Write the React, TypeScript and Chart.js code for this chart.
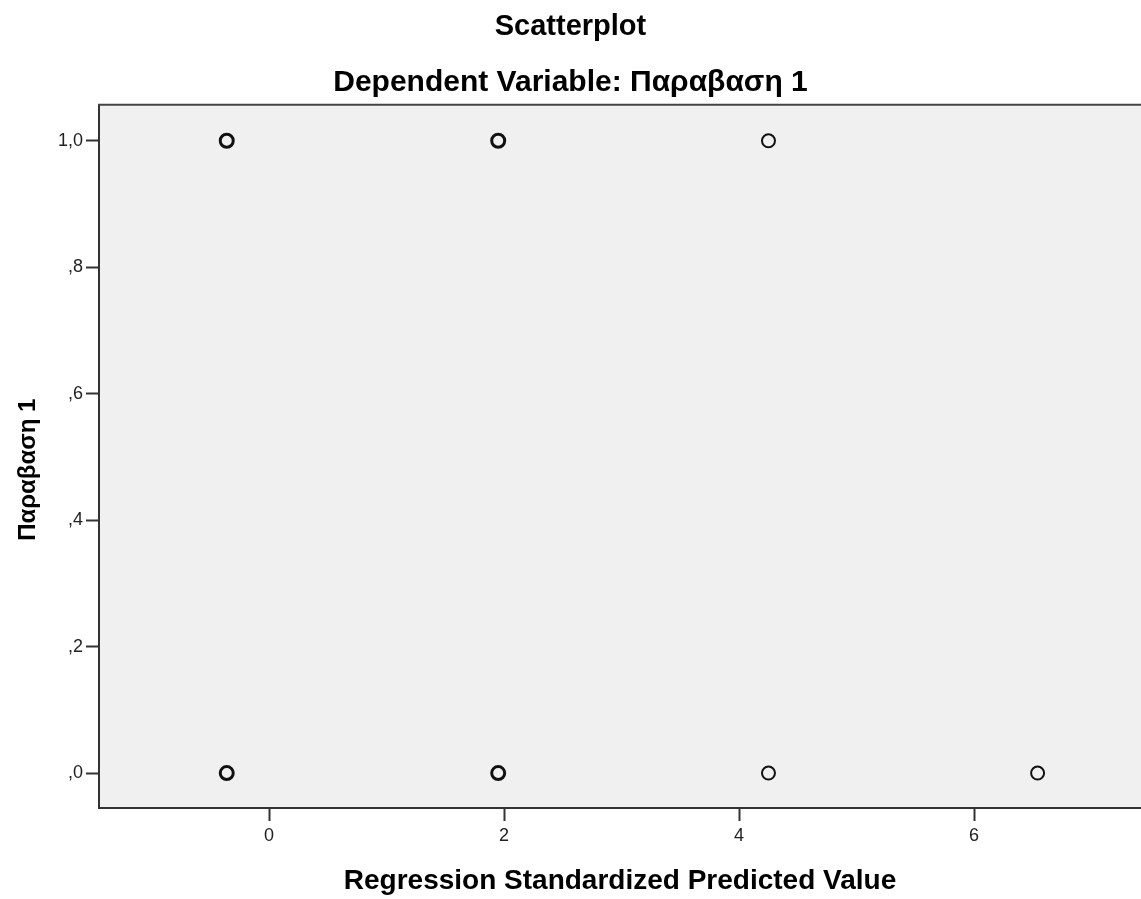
import React, { useEffect, useRef } from "react";
import { Chart, registerables } from "chart.js";

Chart.register(...registerables);

// Data
const predictedValues = [-0.36, 1.95, 4.25, -0.36, 1.95, 4.25, 6.54];
const dependentValues = [1, 1, 1, 0, 0, 0, 0];
// Number of overlapping cases per marker (approximate: bold circles = many cases)
const caseCounts = [6, 6, 1, 6, 6, 1, 1];

const xTickValues = [0, 2, 4, 6];
const xTickLabels = ["0", "2", "4", "6"];
const yTickValues = [0, 0.2, 0.4, 0.6, 0.8, 1.0];
const yTickLabels = [",0", ",2", ",4", ",6", ",8", "1,0"];

const chartTitle = "Scatterplot";
const chartSubtitle = "Dependent Variable: Παραβαση 1";
const xAxisTitle = "Regression Standardized Predicted Value";
const yAxisTitle = "Παραβαση 1";

const FONT = "'Liberation Sans', Arial, sans-serif";

const plotFrame = {
  id: "plotFrame",
  beforeDraw(chart: any) {
    const { ctx, chartArea } = chart;
    ctx.save();
    ctx.fillStyle = "#f0f0f0";
    ctx.fillRect(chartArea.left, chartArea.top, chartArea.right - chartArea.left, chartArea.bottom - chartArea.top);
    ctx.restore();
  },
  afterDraw(chart: any) {
    const { ctx, chartArea } = chart;
    ctx.save();
    ctx.strokeStyle = "#444";
    ctx.lineWidth = 2;
    ctx.beginPath();
    ctx.moveTo(chartArea.left - 1, chartArea.top);
    ctx.lineTo(chartArea.right, chartArea.top);
    ctx.stroke();
    ctx.restore();
  },
};

export default function App() {
  const canvasRef = useRef<HTMLCanvasElement | null>(null);

  useEffect(() => {
    if (!canvasRef.current) return;
    const points = predictedValues.map((x, i) => ({ x, y: dependentValues[i] }));
    const chart = new Chart(canvasRef.current, {
      type: "scatter",
      data: {
        datasets: [
          {
            data: points,
            pointStyle: "circle",
            pointRadius: 6.5,
            pointBackgroundColor: "rgba(0,0,0,0)",
            pointBorderColor: "#111",
            pointBorderWidth: (ctx: any) => (caseCounts[ctx.dataIndex] > 1 ? 3 : 2),
          },
        ],
      },
      plugins: [plotFrame],
      options: {
        animation: false,
        responsive: false,
        maintainAspectRatio: false,
        layout: { padding: 0, autoPadding: false },
        plugins: {
          legend: { display: false },
          tooltip: { enabled: false },
          title: {
            display: true,
            text: chartTitle,
            color: "#000",
            font: { family: FONT, size: 29, weight: "bold" },
            padding: { top: 10, bottom: 10 },
          },
          subtitle: {
            display: true,
            text: chartSubtitle,
            color: "#000",
            font: { family: FONT, size: 30, weight: "bold" },
            padding: { top: 10, bottom: 4 },
          },
        },
        scales: {
          x: {
            type: "linear",
            min: -1.447,
            max: 7.42,
            afterFit: (scale: any) => {
              scale.height = 91;
            },
            afterBuildTicks: (scale: any) => {
              scale.ticks = xTickValues.map((v) => ({ value: v }));
            },
            ticks: {
              color: "#222",
              font: { family: FONT, size: 18 },
              padding: 4,
              callback: (_v: any, i: number) => xTickLabels[i],
            },
            grid: {
              drawOnChartArea: false,
              drawTicks: true,
              tickLength: 13,
              tickColor: "#333",
              tickWidth: 2,
            },
            border: { display: true, color: "#333", width: 2 },
            title: {
              display: true,
              text: xAxisTitle,
              color: "#000",
              font: { family: FONT, size: 28, weight: "bold" },
              padding: { top: 0, bottom: 1 },
            },
          },
          y: {
            type: "linear",
            min: -0.0553,
            max: 1.0569,
            afterFit: (scale: any) => {
              scale.width = 99;
            },
            afterBuildTicks: (scale: any) => {
              scale.ticks = yTickValues.map((v) => ({ value: v }));
            },
            ticks: {
              color: "#222",
              font: { family: FONT, size: 18 },
              padding: 3,
              callback: (_v: any, i: number) => yTickLabels[i],
            },
            grid: {
              drawOnChartArea: false,
              drawTicks: true,
              tickLength: 13,
              tickColor: "#333",
              tickWidth: 2,
            },
            border: { display: true, color: "#333", width: 2 },
            title: {
              display: true,
              // trailing spaces shift the rotated label slightly downward, as in the reference
              text: yAxisTitle + "    ",
              color: "#000",
              font: { family: FONT, size: 24, weight: "bold" },
              padding: { top: 14, bottom: 0 },
            },
          },
        },
      },
    } as any);
    return () => chart.destroy();
  }, []);

  return (
    <div style={{ position: "absolute", left: 0, top: 0, width: 1141, height: 899, background: "#fff" }}>
      <canvas ref={canvasRef} width={1141} height={899} style={{ display: "block" }} />
    </div>
  );
}
